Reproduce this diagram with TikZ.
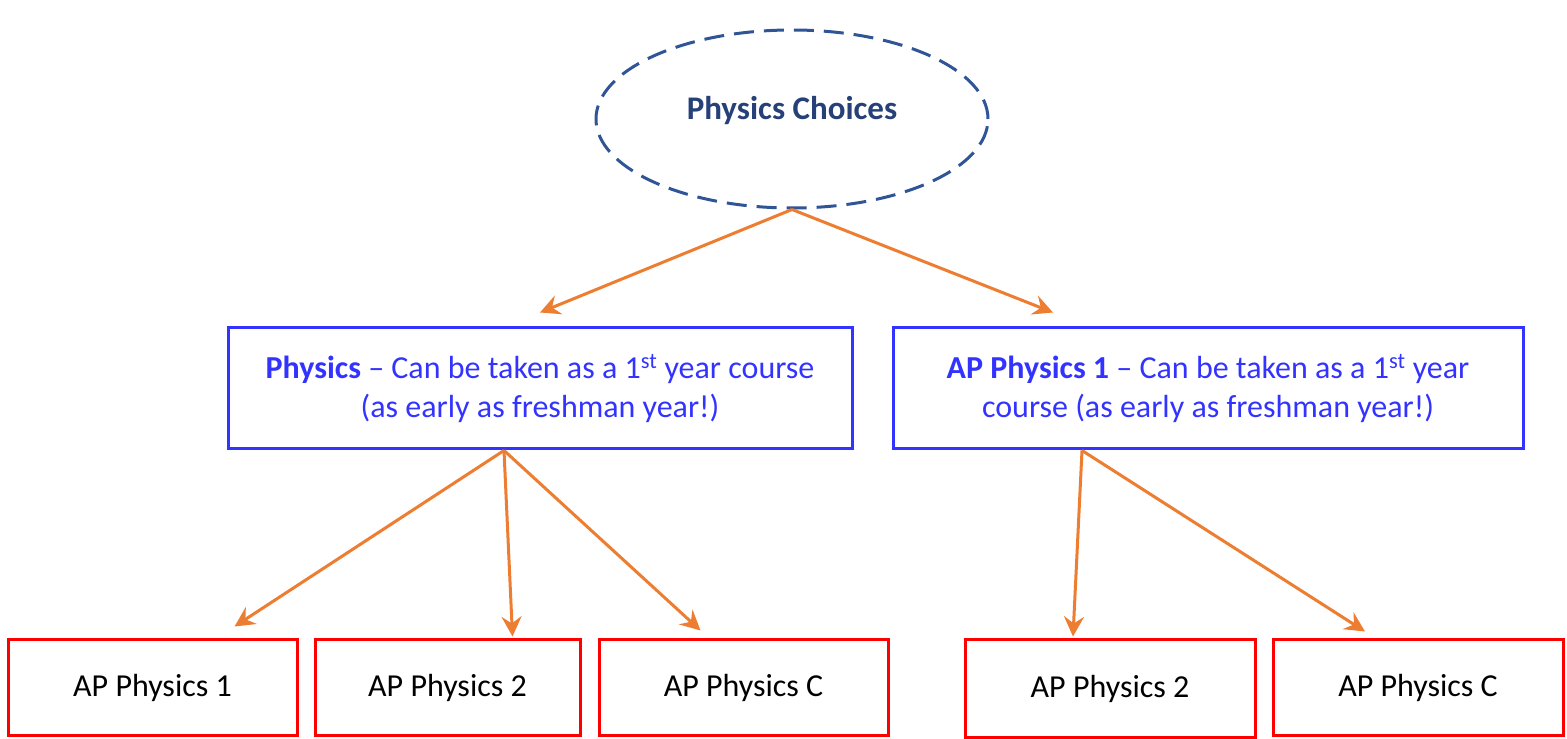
\documentclass[tikz,border=0pt]{standalone}
\usepackage{fontspec}
\setmainfont{Carlito}
\usetikzlibrary{shapes.geometric,arrows.meta}
\definecolor{choiceblue}{RGB}{47,85,151}
\definecolor{choicetext}{RGB}{38,64,120}
\definecolor{boxblue}{RGB}{51,51,255}
\definecolor{arroworange}{RGB}{237,125,49}
\newcommand{\bigtext}[0]{\fontsize{32}{39}\selectfont}

\begin{document}
\begin{tikzpicture}[x=1pt, y=1pt]
  \tikzset{choicenode/.style={ellipse, draw=choiceblue, line width=3pt,
             dash pattern=on 20pt off 10pt, minimum width=392pt,
             minimum height=178pt, inner sep=0pt,
             text=choicetext, font=\fontsize{33}{39}\selectfont\bfseries},
           coursebox/.style={rectangle, draw=boxblue, line width=3pt,
             minimum height=121pt, inner sep=0pt, align=center,
             text=boxblue, font=\bigtext},
           apbox/.style={rectangle, draw=red, line width=3pt,
             minimum height=96pt, inner sep=0pt, font=\bigtext},
           choicearrow/.style={draw=arroworange, line width=3pt,
             -{Stealth[length=20pt, width=20pt, inset=7pt]}}}
  \useasboundingbox (0,0) rectangle (1567,739);
  \node[choicenode] (choices) at (792,620) {\raisebox{-1pt}[0pt][0pt]{Physics Choices}};
  \node[coursebox, minimum width=624pt] (phys) at (540,350.5)
    {\textbf{Physics} -- Can be taken as a 1\textsuperscript{st} year course\\
     (as early as freshman year!)};
  \node[coursebox, minimum width=630pt] (apone) at (1208,350.5)
    {\textbf{AP Physics 1} -- Can be taken as a 1\textsuperscript{st} year\\
     course (as early as freshman year!)};
  \node[apbox, minimum width=289pt] (physone) at (152.5,51) {AP Physics 1};
  \node[apbox, minimum width=265pt] (phystwo) at (447.5,51) {AP Physics 2};
  \node[apbox, minimum width=289pt] (physc) at (743.5,51) {AP Physics C};
  \node[apbox, minimum width=290pt, minimum height=98pt] (aptwo) at (1110,50) {AP Physics 2};
  \node[apbox, minimum width=290pt] (apc) at (1418,51) {AP Physics C};
  % arrows
  \draw[choicearrow] (choices.south) -- ([yshift=14pt]phys.north);
  \draw[choicearrow] (choices.south) -- ([xshift=-155pt, yshift=14pt]apone.north);
  \draw[choicearrow] ([xshift=-36pt]phys.south) -- ([xshift=82pt, yshift=12pt]physone.north);
  \draw[choicearrow] ([xshift=-36pt]phys.south) -- ([xshift=65pt, yshift=2pt]phystwo.north);
  \draw[choicearrow] ([xshift=-36pt]phys.south) -- ([xshift=-43pt, yshift=8pt]physc.north);
  \draw[choicearrow] ([xshift=-126pt]apone.south) -- ([xshift=-37pt, yshift=2pt]aptwo.north);
  \draw[choicearrow] ([xshift=-126pt]apone.south) -- ([xshift=-53pt, yshift=7pt]apc.north);
\end{tikzpicture}
\end{document}
